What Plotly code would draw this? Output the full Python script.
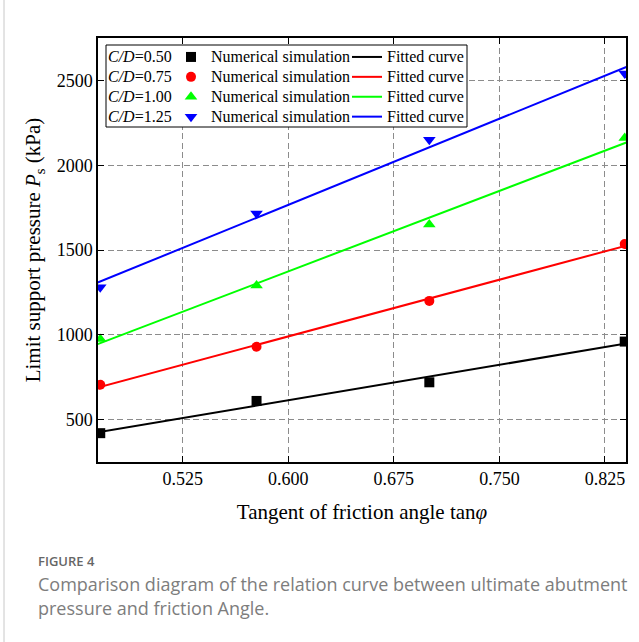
import numpy as np
import plotly.graph_objects as go

# ---------------- data ----------------
tan_phi = [0.4663, 0.5774, 0.7002, 0.8391]
cd_labels = ["0.50", "0.75", "1.00", "1.25"]
ps_cd050 = [420, 610, 720, 960]
ps_cd075 = [705, 930, 1200, 1535]
ps_cd100 = [975, 1290, 1650, 2160]
ps_cd125 = [1280, 1715, 2150, 2540]
x_ticks = [0.525, 0.600, 0.675, 0.750, 0.825]
y_ticks = [500, 1000, 1500, 2000, 2500]

series = [ps_cd050, ps_cd075, ps_cd100, ps_cd125]
colors = ["#000000", "#ff0000", "#00ff00", "#0000ff"]
symbols = ["square", "circle", "triangle-up", "triangle-down"]

# ---------------- geometry ----------------
W_FIG, H_FIG = 639, 642
L, R, T, B = 98, 13, 38, 180
PW, PH = W_FIG - L - R, H_FIG - T - B


def px2x(px):
    return (px - L) / PW


def px2y(py):
    return 1 - (py - T) / PH


SERIF = "Liberation Serif, Times New Roman, serif"

fig = go.Figure()

x_lo, x_hi = 0.4647, 0.8400
x_fit = np.array([x_lo - 0.01, x_hi + 0.01])

for lab in cd_labels:
    fig.add_trace(go.Scatter(
        x=[None], y=[None], mode="markers",
        marker=dict(color="rgba(0,0,0,0)", size=1),
        name=f'<span style="font-size:16px"><i>C/D</i>={lab}</span>',
        legend="legend", showlegend=True, hoverinfo="skip"))

for ys, c, s in zip(series, colors, symbols):
    fig.add_trace(go.Scatter(
        x=tan_phi, y=ys, mode="markers",
        marker=dict(color=c, symbol=s, size=10 if s in ("square", "circle") else 11),
        name='<span style="font-size:16px">Numerical simulation</span>',
        legend="legend2", cliponaxis=True))

for ys, c in zip(series, colors):
    k, b0 = np.polyfit(tan_phi, ys, 1)
    fig.add_trace(go.Scatter(
        x=x_fit, y=k * x_fit + b0, mode="lines",
        line=dict(color=c, width=2),
        name='<span style="font-size:16px">Fitted curve</span>',
        legend="legend3"))

axis_common = dict(
    showline=True, linecolor="black", linewidth=1.5, mirror="ticks",
    ticks="inside", ticklen=6, tickwidth=1, tickcolor="black",
    showgrid=True, gridcolor="#8c8c8c", gridwidth=1, griddash="6px,3.5px",
    zeroline=False, automargin=False,
    tickfont=dict(family=SERIF, size=18, color="black"),
)

fig.update_xaxes(
    range=[x_lo, x_hi], tickvals=x_ticks,
    ticktext=[f"{v:.3f}" for v in x_ticks],
    title=dict(text="Tangent of friction angle tan<i>φ</i>",
               font=dict(family=SERIF, size=21, color="black"), standoff=16),
    **axis_common)
fig.update_yaxes(
    range=[250, 2750], tickvals=y_ticks,
    ticktext=[str(v) for v in y_ticks],
    title=dict(text="Limit support pressure <i>P</i><sub>s</sub> (kPa)",
               font=dict(family=SERIF, size=21, color="black"), standoff=10),
    **axis_common)

leg_common = dict(
    font=dict(family=SERIF, size=13, color="black"),
    bgcolor="rgba(0,0,0,0)", borderwidth=0,
    xanchor="left", yanchor="top", orientation="v",
    tracegroupgap=0, itemclick=False, itemdoubleclick=False,
)
top_px = 42
fig.update_layout(
    legend=dict(x=px2x(68), y=px2y(top_px), **leg_common),
    legend2=dict(x=px2x(171), y=px2y(top_px), **leg_common),
    legend3=dict(x=px2x(347), y=px2y(top_px), **leg_common),
)

shapes = [
    dict(type="rect", xref="paper", yref="paper",
         x0=px2x(106), x1=px2x(467), y0=px2y(45), y1=px2y(127),
         line=dict(color="black", width=1), fillcolor="white", layer="above"),
    dict(type="line", xref="paper", yref="paper",
         x0=px2x(4), x1=px2x(4), y0=px2y(0), y1=px2y(H_FIG),
         line=dict(color="#c8c8c8", width=1)),
]

CAP = "Open Sans, Noto Sans, sans-serif"
annotations = [
    dict(text="FIGURE 4", xref="paper", yref="paper",
         x=px2x(36), y=px2y(561), xanchor="left", yanchor="middle",
         showarrow=False,
         font=dict(family=CAP, size=13, color="#666666", weight=600)),
    dict(text="Comparison diagram of the relation curve between ultimate abutment",
         xref="paper", yref="paper",
         x=px2x(36), y=px2y(584), xanchor="left", yanchor="middle",
         showarrow=False, font=dict(family=CAP, size=18, color="#7d7d7d")),
    dict(text="pressure and friction Angle.",
         xref="paper", yref="paper",
         x=px2x(36), y=px2y(608), xanchor="left", yanchor="middle",
         showarrow=False, font=dict(family=CAP, size=18, color="#7d7d7d")),
]

fig.update_layout(
    width=W_FIG, height=H_FIG,
    margin=dict(l=L, r=R, t=T, b=B, autoexpand=False),
    paper_bgcolor="white", plot_bgcolor="white",
    template="none",
    shapes=shapes, annotations=annotations,
    showlegend=True,
)

fig.write_html(
    "out.html",
    config={"displayModeBar": False},
    post_script="document.body.style.margin='0';document.body.style.overflow='hidden';",
)
